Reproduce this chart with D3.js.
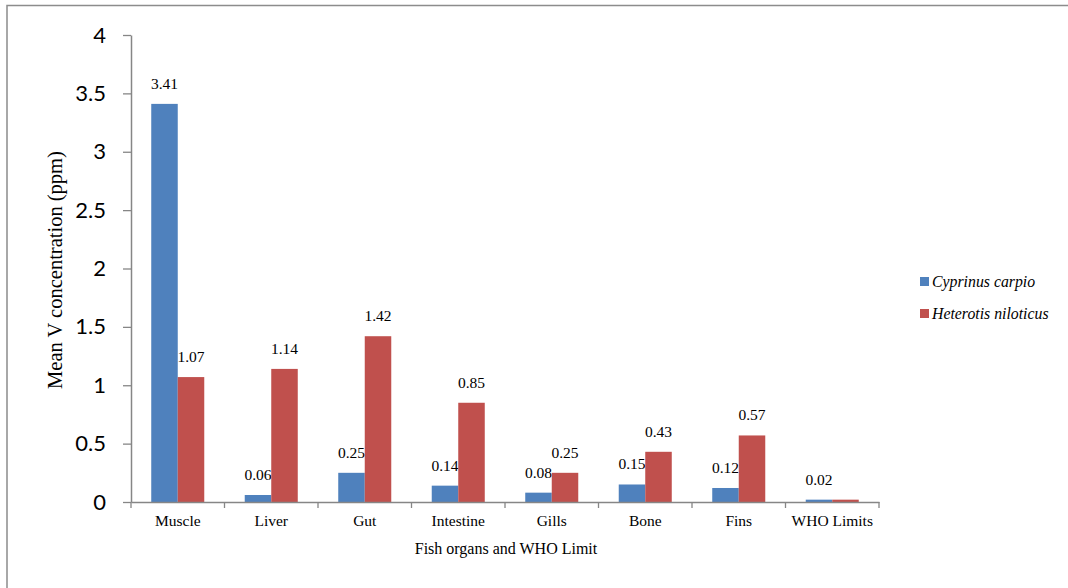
<!DOCTYPE html>
<html>
<head>
<meta charset="utf-8">
<script src="https://cdn.jsdelivr.net/npm/d3@7/dist/d3.min.js"></script>
<style>
  html, body { margin: 0; padding: 0; background: #fff; }
  svg { display: block; }
</style>
</head>
<body>
<svg id="chart" width="1068" height="588"></svg>
<script>
// Mean vanadium concentration in fish organs, with the WHO limit
const categories = ["Muscle", "Liver", "Gut", "Intestine", "Gills", "Bone", "Fins", "WHO Limits"];
const cyprinus = [3.41, 0.06, 0.25, 0.14, 0.08, 0.15, 0.12, 0.02];
const heterotis = [1.07, 1.14, 1.42, 0.85, 0.25, 0.43, 0.57, 0.02];
const cyprinusLabels = ["3.41", "0.06", "0.25", "0.14", "0.08", "0.15", "0.12", "0.02"];
const heterotisLabels = ["1.07", "1.14", "1.42", "0.85", "0.25", "0.43", "0.57", null];
const seriesNames = ["Cyprinus carpio", "Heterotis niloticus"];
const yTicks = [0, 0.5, 1, 1.5, 2, 2.5, 3, 3.5, 4];
const yTickLabels = ["0", "0.5", "1", "1.5", "2", "2.5", "3", "3.5", "4"];

const colors = ["#4F81BD", "#C0504D"];
const axisColor = "#868686";
const serif = "'Liberation Serif', 'Times New Roman', serif";
const sans = "Lato, 'Open Sans', sans-serif";

const svg = d3.select("#chart");

// outer frame
svg.append("path")
  .attr("d", "M7,590 L7,5.5 L1070,5.5")
  .attr("fill", "none")
  .attr("stroke", "#8c8c8c")
  .attr("stroke-width", 1.5);

const plot = { left: 131, right: 879, top: 35, bottom: 502 };

const x0 = d3.scaleBand()
  .domain(categories)
  .range([plot.left, plot.right])
  .paddingInner(0.433)
  .paddingOuter(0.2165);

const x1 = d3.scaleBand()
  .domain([0, 1])
  .range([0, x0.bandwidth()]);

const y = d3.scaleLinear().domain([0, 4]).range([plot.bottom, plot.top]);

// y axis
const yAxis = svg.append("g")
  .attr("transform", `translate(${plot.left},0)`)
  .call(d3.axisLeft(y).tickValues(yTicks).tickFormat((d, i) => yTickLabels[i]).tickSize(8).tickPadding(17).tickSizeOuter(0));
yAxis.select(".domain").attr("stroke", axisColor).attr("stroke-width", 1.5);
yAxis.selectAll(".tick line").attr("stroke", axisColor).attr("stroke-width", 1.3);
yAxis.selectAll(".tick text")
  .attr("fill", "#000")
  .style("font-family", sans)
  .style("font-size", "22px");

// bars
const series = [cyprinus, heterotis];
const labels = [cyprinusLabels, heterotisLabels];
series.forEach((vals, s) => {
  const g = svg.append("g");
  g.selectAll("rect")
    .data(vals)
    .join("rect")
    .attr("x", (d, i) => x0(categories[i]) + x1(s))
    .attr("y", d => y(d))
    .attr("width", x1.bandwidth())
    .attr("height", d => plot.bottom - y(d))
    .attr("fill", colors[s]);

  g.selectAll("text")
    .data(vals.map((v, i) => ({ v, i, t: labels[s][i] })).filter(d => d.t !== null))
    .join("text")
    .attr("x", d => x0(categories[d.i]) + x1(s) + x1.bandwidth() / 2)
    .attr("y", d => y(d.v) - 15)
    .attr("text-anchor", "middle")
    .style("font-family", serif)
    .style("font-size", "15.5px")
    .attr("fill", "#000")
    .text(d => d.t);
});

// x axis
const xAxis = svg.append("g")
  .attr("transform", `translate(0,${plot.bottom})`)
  .call(d3.axisBottom(x0).tickSize(0).tickPadding(13).tickSizeOuter(0));
xAxis.select(".domain").attr("stroke", axisColor).attr("stroke-width", 1.5);
xAxis.selectAll(".tick text")
  .attr("fill", "#000")
  .style("font-family", serif)
  .style("font-size", "15.5px");

// boundary tick marks between categories
const boundaries = d3.range(categories.length + 1).map(i => plot.left + i * (plot.right - plot.left) / categories.length);
xAxis.selectAll(".bound")
  .data(boundaries)
  .join("line")
  .attr("class", "bound")
  .attr("x1", d => d).attr("x2", d => d)
  .attr("y1", 0).attr("y2", 6)
  .attr("stroke", axisColor)
  .attr("stroke-width", 1.3);

// axis titles
svg.append("text")
  .attr("x", 506)
  .attr("y", 554)
  .attr("text-anchor", "middle")
  .style("font-family", serif)
  .style("font-size", "16px")
  .text("Fish organs and WHO Limit");

svg.append("text")
  .attr("transform", "translate(62,270) rotate(-90)")
  .attr("text-anchor", "middle")
  .style("font-family", serif)
  .style("font-size", "20.5px")
  .text("Mean V concentration (ppm)");

// legend
const legend = svg.append("g").attr("transform", "translate(920,282)");
seriesNames.forEach((name, i) => {
  const row = legend.append("g").attr("transform", `translate(0,${i * 32})`);
  row.append("rect")
    .attr("x", 0).attr("y", -5)
    .attr("width", 9).attr("height", 9)
    .attr("fill", colors[i]);
  row.append("text")
    .attr("x", 12)
    .attr("y", 5)
    .style("font-family", serif)
    .style("font-style", "italic")
    .style("font-size", "15.8px")
    .text(name);
});
</script>
</body>
</html>
